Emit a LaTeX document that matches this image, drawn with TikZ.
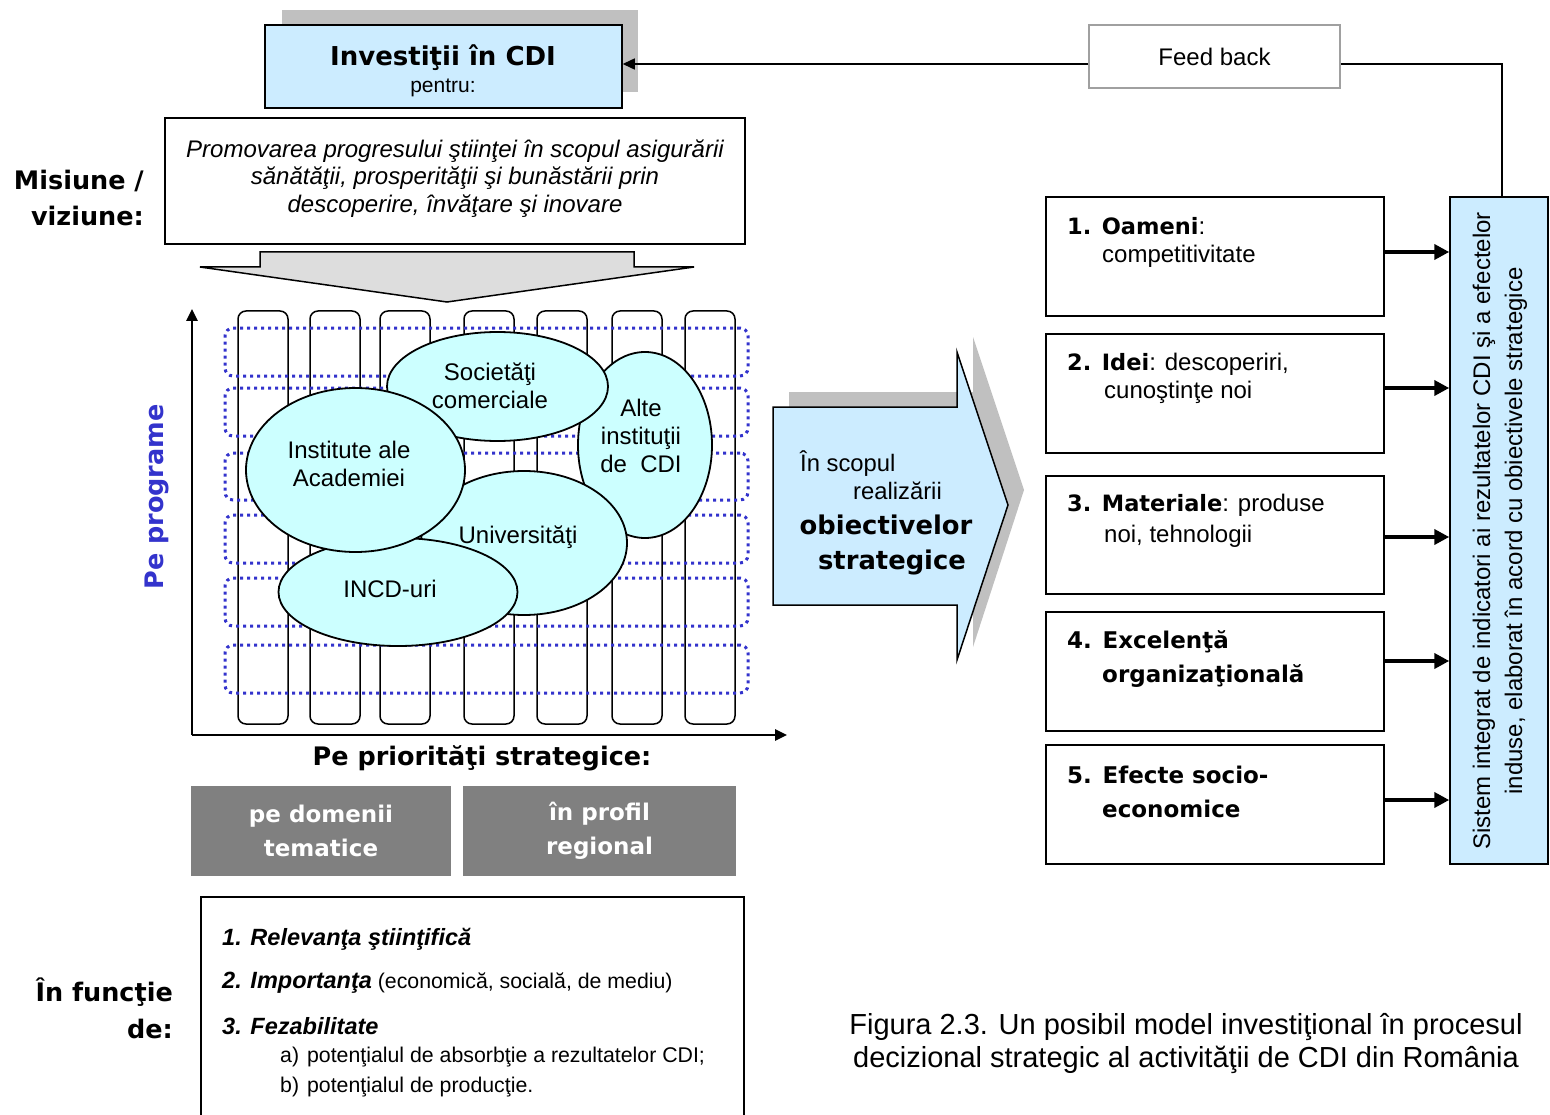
\documentclass[tikz,border=0pt]{standalone}
\usepackage{fontspec}
\setmainfont{Liberation Sans}
\newfontfamily\blk{DejaVu Sans}
\usetikzlibrary{shapes.geometric,arrows.meta}
\definecolor{lblue}{RGB}{204,236,255}
\definecolor{lcyan}{RGB}{204,255,255}
\definecolor{dotblue}{RGB}{51,51,204}
\definecolor{boxgray}{RGB}{128,128,128}
\definecolor{shadowgray}{RGB}{192,192,192}
\definecolor{arrgray}{RGB}{221,221,221}
\definecolor{fbgray}{RGB}{160,160,160}
\newcommand{\fs}[2]{\fontsize{#1}{#2}\selectfont}
\newcommand{\hv}{\blk\bfseries}
\tikzset{
  rect/.style={draw=black, line width=1.5pt, rectangle, inner sep=0pt},
  colbox/.style={draw=black, line width=1.5pt, rectangle, rounded corners=8pt, minimum width=50pt, minimum height=413pt, inner sep=0pt},
  rowbox/.style={draw=dotblue, line width=3pt, dash pattern=on 3pt off 4pt, rectangle, rounded corners=8pt, minimum width=523pt, inner sep=0pt},
  ell/.style={draw=black, fill=lcyan, line width=1.8pt, ellipse, inner sep=0pt},
  etxt/.style={font=\fs{24}{28}, align=center, inner sep=0pt},
  rbox/.style={rect, minimum width=338pt},
  thickarr/.style={line width=4pt, -{Triangle[length=15pt,width=15pt]}},
  thinarr/.style={line width=1.5pt, -{Triangle[length=12pt,width=11pt]}},
  txt/.style={inner sep=0pt, anchor=west},
}
\begin{document}
\begin{tikzpicture}[x=1pt,y=-1pt]
\useasboundingbox (0,0) rectangle (1550,1115);
% ---------- top box ----------
\node[fill=shadowgray, minimum width=356pt, minimum height=82pt, inner sep=0pt] (invsh) at (460,51) {};
\node[rect, fill=lblue, minimum width=357pt, minimum height=83pt] (inv) at (443.5,66.5) {};
\node[inner sep=0pt] (invt) at (443,57.5) {\hv\fs{26}{30}Investiţii în CDI};
\node[inner sep=0pt] (invp) at (443,88) {\fs{21}{24}pentru:};
% ---------- mission ----------
\node[rect, minimum width=580pt, minimum height=126pt] (mis) at (455,181) {};
\node[inner sep=0pt, align=center, font=\fs{24}{27.5}\itshape] (mist) at (455,178.5)
  {Promovarea progresului ştiinţei în scopul asigurării\\ sănătăţii, prosperităţii şi bunăstării prin\\ descoperire, învăţare şi inovare};
\node[inner sep=0pt, anchor=east, align=right, font=\hv\fs{25.5}{36}] (misl) at (144,198) {Misiune /\\ viziune:};
% ---------- down arrow ----------
\draw[fill=arrgray, line width=1.5pt] (260,252) -- (634,252) -- (634,267) -- (694,267) -- (447,302) -- (200,267) -- (260,267) -- cycle;
% ---------- columns ----------
\foreach \x [count=\i] in {238,310,380,464,537,612,685}
  \node[colbox] (col\i) at (\x+25,517.5) {};
% ---------- dotted rows ----------
\foreach \a/\b [count=\i] in {328/376,388/436,453/500,515/563,578/626,645/693}
  \node[rowbox, minimum height=\b-\a] (row\i) at (486.5,{(\a+\b)/2}) {};
% ---------- axes ----------
\coordinate (O) at (192,735);
\coordinate (ytop) at (192,309);
\coordinate (xend) at (787,735);
\draw[thinarr, line width=2.5pt] (O) -- (ytop);
\draw[thinarr, line width=2.5pt] (O) -- (xend);
% ---------- ellipses ----------
\node[ell, minimum width=134pt, minimum height=186pt] (alte) at (645,445) {};
\node[ell, minimum width=221pt, minimum height=109pt] (soc) at (497.5,386.5) {};
\node[ell, minimum width=206pt, minimum height=144pt] (univ) at (524,543) {};
\node[ell, minimum width=239pt, minimum height=108pt] (incd) at (398,592) {};
\node[ell, minimum width=219pt, minimum height=164pt] (inst) at (355.5,470) {};
\node[etxt] (soct) at (490,386) {Societăţi\\ comerciale};
\node[etxt] (altet) at (641,436) {Alte\\ instituţii\\ de~ CDI};
\node[etxt] (instt) at (349,464) {Institute ale\\ Academiei};
\node[etxt] (univt) at (518,537) {Universităţi};
\node[etxt] (incdt) at (390,589) {INCD-uri};
% ---------- axis labels ----------
\node[inner sep=0pt, rotate=90, text=dotblue, font=\hv\fs{25.5}{30}] (prog) at (157,497) {Pe programe};
\node[inner sep=0pt, font=\hv\fs{25.5}{30}] (prio) at (482,758) {Pe priorităţi strategice:};
% ---------- gray boxes ----------
\node[fill=boxgray, minimum width=260pt, minimum height=90pt, inner sep=0pt, text=white, align=center, font=\hv\fs{23}{34}] (dom) at (321,831) {pe domenii\\ tematice};
\node[fill=boxgray, minimum width=273pt, minimum height=90pt, inner sep=0pt, text=white, align=center, font=\hv\fs{23}{34}] (reg) at (599.5,831) {în profil\\ regional};
% ---------- criteria box ----------
\draw[line width=1.5pt] (201,1120) -- (201,897) -- (744,897) -- (744,1120);
\node[txt, font=\fs{23.5}{26}\bfseries\itshape] (c1) at (222,939) {1. Relevanţa ştiinţifică};
\node[txt, font=\fs{23.5}{26}] (c2) at (222,983) {\bfseries\itshape 2. Importanţa\mdseries\upshape\fs{21.3}{26} (economică, socială, de mediu)};
\node[txt, font=\fs{23.5}{26}\bfseries\itshape] (c3) at (222,1026) {3. Fezabilitate};
\node[txt, font=\fs{21.3}{26}] (c3a) at (280,1057) {a)\hspace{8pt}potenţialul de absorbţie a rezultatelor CDI;};
\node[txt, font=\fs{21.3}{26}] (c3b) at (280,1087) {b)\hspace{8pt}potenţialul de producţie.};
\node[inner sep=0pt, anchor=east, align=right, font=\hv\fs{25.5}{37}] (func) at (173,1008) {În funcţie\\ de:};
% ---------- big right arrow ----------
\fill[shadowgray] (789,392) -- (973,392) -- (973,337) -- (1024,490) -- (973,647) -- (973,590) -- (789,590) -- cycle;
\draw[fill=lblue, line width=1.5pt] (773,407) -- (957,407) -- (957,352) -- (1008,505) -- (957,660) -- (957,605) -- (773,605) -- cycle;
\node[txt, font=\fs{23.8}{28}] (sc1) at (800,464) {În scopul};
\node[txt, font=\fs{23.8}{28}] (sc2) at (853,491) {realizării};
\node[inner sep=0pt, font=\hv\fs{25.8}{30}] (sc3) at (886,525) {obiectivelor};
\node[inner sep=0pt, font=\hv\fs{25.8}{30}] (sc4) at (892,562) {strategice};
% ---------- feedback ----------
\node[draw=fbgray, line width=1.5pt, minimum width=251pt, minimum height=63pt, inner sep=0pt, font=\fs{24}{28}] (fb) at (1214.5,56.5) {Feed back};
% ---------- right boxes ----------
\node[rbox, minimum height=119pt] (b1) at (1215,256.5) {};
\node[rbox, minimum height=119pt] (b2) at (1215,393.5) {};
\node[rbox, minimum height=118pt] (b3) at (1215,535) {};
\node[rbox, minimum height=119pt] (b4) at (1215,671.5) {};
\node[rbox, minimum height=119pt] (b5) at (1215,804.5) {};
\node[rect, fill=lblue, minimum width=98pt, minimum height=667pt] (sys) at (1499,530.5) {};
\node[inner sep=0pt, rotate=90, align=center, font=\fs{24}{32}] (syst) at (1500,531)
  {Sistem integrat de indicatori ai rezultatelor CDI şi a efectelor\\ induse, elaborat în acord cu obiectivele strategice};
\node[txt, font=\fs{24}{28}] (b1a) at (1067,226) {{\hv\fs{22.5}{26}1. Oameni}:};
\node[txt, font=\fs{24}{28}] (b1b) at (1102,256) {competitivitate};
\node[txt, font=\fs{24}{28}] (b2a) at (1067,364) {{\hv\fs{22.5}{26}2. Idei}: descoperiri,};
\node[txt, font=\fs{24}{28}] (b2b) at (1104,392) {cunoştinţe noi};
\node[txt, font=\fs{24}{28}] (b3a) at (1067,505) {{\hv\fs{22.5}{26}3. Materiale}: produse};
\node[txt, font=\fs{24}{28}] (b3b) at (1104,536) {noi, tehnologii};
\node[txt, font=\hv\fs{23}{26}] (b4a) at (1067,642) {4. Excelenţă};
\node[txt, font=\hv\fs{23}{26}] (b4b) at (1102,676) {organizaţională};
\node[txt, font=\hv\fs{23}{26}] (b5a) at (1067,775) {5. Efecte socio-};
\node[txt, font=\hv\fs{23}{26}] (b5b) at (1102,809) {economice};
% ---------- connectors ----------
\draw[thickarr] ([yshift=4.5pt]b1.east) -- ([yshift=4.5pt]b1.east -| sys.west);
\draw[thickarr] ([yshift=5.5pt]b2.east) -- ([yshift=5.5pt]b2.east -| sys.west);
\draw[thickarr] ([yshift=-2pt]b3.east) -- ([yshift=-2pt]b3.east -| sys.west);
\draw[thickarr] ([yshift=10.5pt]b4.east) -- ([yshift=10.5pt]b4.east -| sys.west);
\draw[thickarr] ([yshift=4.5pt]b5.east) -- ([yshift=4.5pt]b5.east -| sys.west);
\draw[line width=1.5pt] ([xshift=3pt]sys.north) |- ([yshift=-7.5pt]fb.east);
\draw[thinarr] ([yshift=-7.5pt]fb.west) -- ([yshift=-7.5pt]fb.west -| inv.east);
% ---------- caption ----------
\node[inner sep=0pt, align=center, font=\fs{29}{33}] (cap) at (1186,1044)
  {Figura 2.3. Un posibil model investiţional în procesul\\ decizional strategic al activităţii de CDI din România};
\end{tikzpicture}
\end{document}
